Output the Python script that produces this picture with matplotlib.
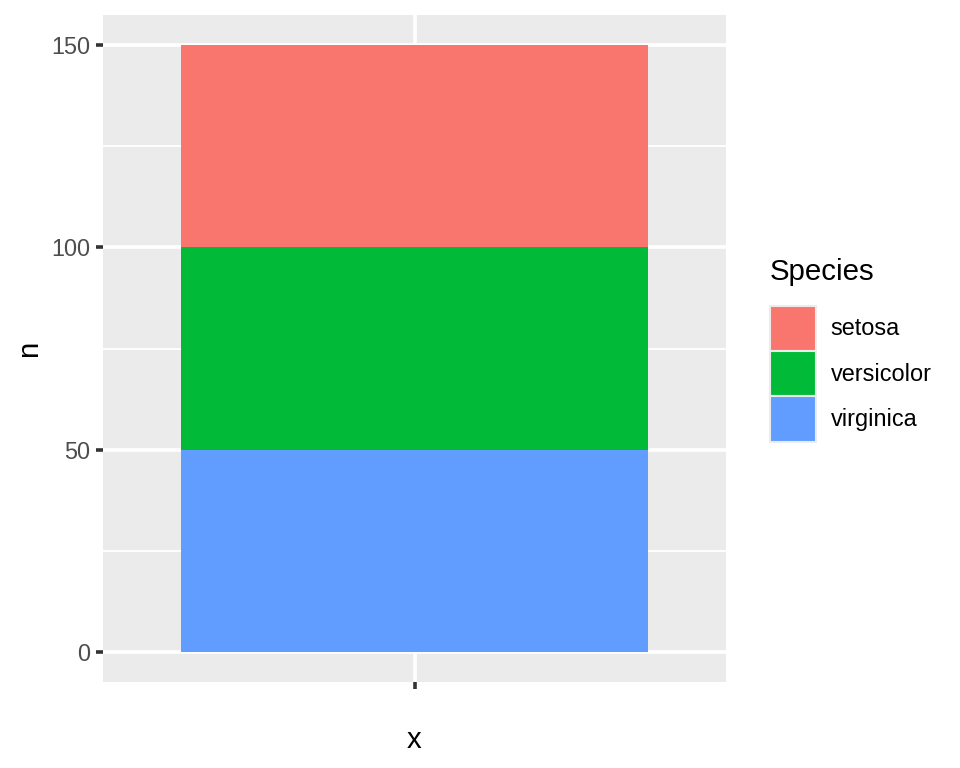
import matplotlib.pyplot as plt
from matplotlib.patches import Patch
from matplotlib.ticker import MultipleLocator

plt.rcParams["font.family"] = ["Liberation Sans", "DejaVu Sans"]

# data
species = ["setosa", "versicolor", "virginica"]
counts = [50, 50, 50]
colors = ["#F8766D", "#00BA38", "#619CFF"]
x_cats = [""]
y_ticks = [0, 50, 100, 150]

S = 1.92  # ggplot pt -> mpl pt at this size

fig = plt.figure(figsize=(9.6, 7.68), dpi=100)
ax = fig.add_axes([103 / 960, 1 - 682 / 768, (726 - 103) / 960, (682 - 15) / 768])
ax.set_facecolor("#EBEBEB")

# stack in reverse so the first species sits on top
bottom = 0
for name, n, col in reversed(list(zip(species, counts, colors))):
    ax.bar(x_cats, n, bottom=bottom, width=0.9, color=col, zorder=2)
    bottom += n

total = sum(counts)
ax.set_xlim(-0.6, 0.6)
ax.set_ylim(-0.05 * total, total * 1.05)
ax.set_yticks(y_ticks)
ax.yaxis.set_minor_locator(MultipleLocator(25))

ax.set_axisbelow(True)
ax.grid(which="major", color="white", linewidth=0.5 * 2.845 * S * 0.95)
ax.grid(which="minor", axis="y", color="white", linewidth=0.25 * 2.845 * S * 0.95)

for sp in ax.spines.values():
    sp.set_visible(False)

ax.tick_params(which="major", length=2.75 * S, width=0.5 * 2.845 * S * 0.95,
               color="#333333", labelcolor="#4D4D4D", labelsize=8.8 * S, pad=2.2 * S)
ax.tick_params(which="minor", length=0)

ax.set_xlabel("x", fontsize=11 * S, labelpad=2.75 * S + 17)
ax.set_ylabel("n", fontsize=11 * S, labelpad=2.75 * S + 0.5)

handles = [Patch(facecolor=c, edgecolor="#EBEBEB", linewidth=1.5, label=s)
           for s, c in zip(species, colors)]
leg = fig.legend(
    handles=handles,
    title="Species",
    loc="center left",
    bbox_to_anchor=(770 / 960, 1 - 350 / 768),
    frameon=False,
    fontsize=8.8 * S,
    title_fontsize=11 * S,
    handlelength=1.95,
    handleheight=2.6,
    labelspacing=0,
    handletextpad=0.64,
    borderpad=0,
    borderaxespad=0,
    alignment="left",
)
leg._legend_box.sep = 14

fig.savefig("out.png", dpi=100)
